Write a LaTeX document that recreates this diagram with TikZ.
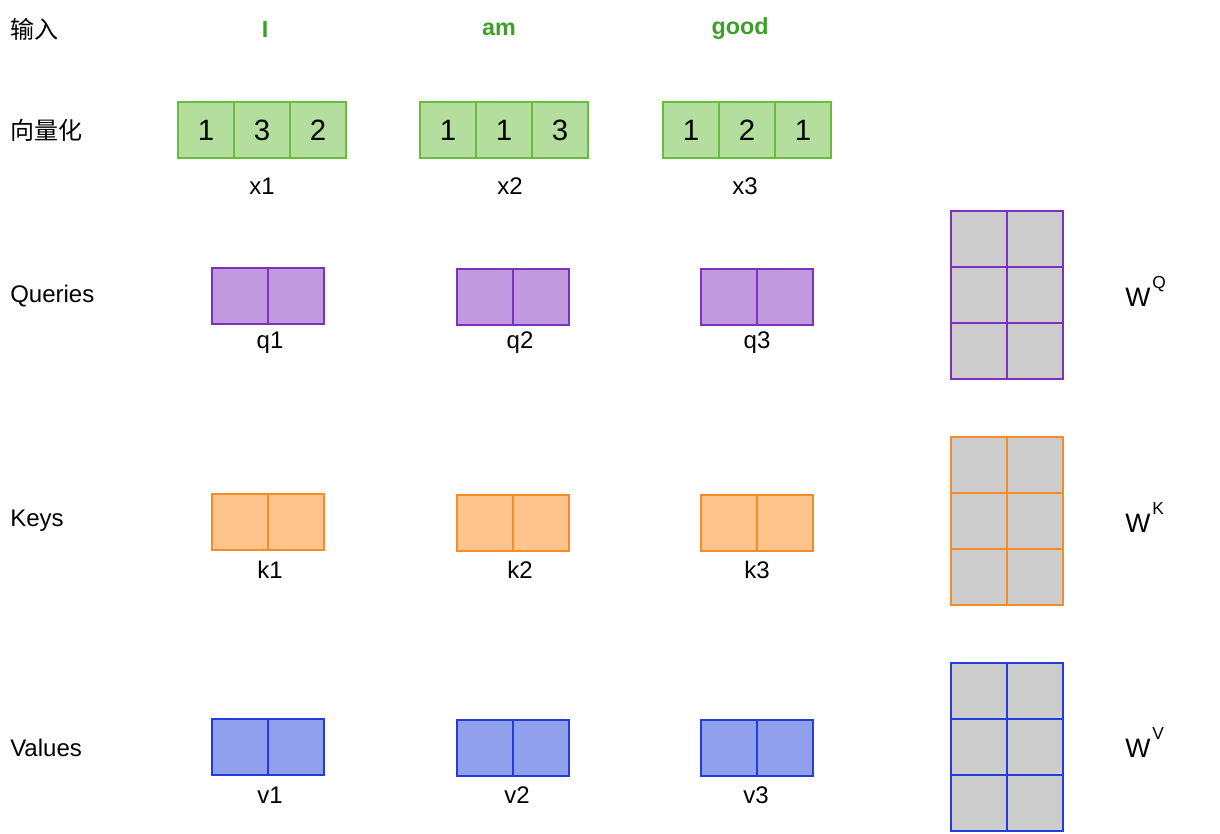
\documentclass[tikz,border=0pt]{standalone}
\usepackage{fontspec}
\setmainfont{Liberation Sans}
\newfontfamily\cjkfont{Noto Sans CJK SC}
\usetikzlibrary{positioning}

\definecolor{xfill}{RGB}{179,222,158}
\definecolor{xline}{RGB}{102,190,58}
\definecolor{qfill}{RGB}{192,153,222}
\definecolor{qline}{RGB}{126,48,191}
\definecolor{kfill}{RGB}{255,196,140}
\definecolor{kline}{RGB}{245,140,40}
\definecolor{vfill}{RGB}{145,160,236}
\definecolor{vline}{RGB}{35,60,220}
\definecolor{wgrey}{RGB}{204,204,204}
\definecolor{wordgreen}{RGB}{60,160,40}

\newcommand{\wsup}[1]{W\hspace{1.5pt}\raisebox{13pt}{\fontsize{13}{13}\selectfont #1}}

\begin{document}
\begin{tikzpicture}[
    x=0.75pt, y=-0.75pt,
    cell/.style={draw, line width=1.2pt, minimum width=42pt, minimum height=42pt,
      inner sep=0pt, outer sep=0pt},
    xcell/.style={cell, fill=xfill, draw=xline, font=\fontsize{22}{22}\selectfont},
    qcell/.style={cell, fill=qfill, draw=qline},
    kcell/.style={cell, fill=kfill, draw=kline},
    vcell/.style={cell, fill=vfill, draw=vline},
    wcell/.style={cell, fill=wgrey},
    rowlabel/.style={anchor=west, inner xsep=0pt, font=\fontsize{18}{18}\selectfont},
    vecname/.style={font=\fontsize{18}{18}\selectfont},
    word/.style={font=\bfseries\fontsize{17.5}{17.5}\selectfont, text=wordgreen},
    wname/.style={anchor=base west, inner sep=0pt, font=\fontsize{20}{20}\selectfont}
  ]
  \useasboundingbox (0,0) rectangle (1220,834);

  % row titles
  \node[rowlabel] (input) at (10,29) {\cjkfont 输入};
  \node[rowlabel] (embed) at (10,130) {\cjkfont 向量化};
  \node[rowlabel] (queries) at (10,296) {Queries};
  \node[rowlabel] (keys) at (10,521) {Keys};
  \node[rowlabel] (values) at (10,748) {Values};

  % input words
  \node[word] (tokI) at (265,29) {I};
  \node[word] (tokam) at (499,29) {am};
  \node[word] (tokgood) at (740,29) {good};

  % embeddings
  \foreach \v [count=\i from 0] in {1,3,2}
    \node[xcell] (x1-\i) at (206+56*\i,130) {\v};
  \foreach \v [count=\i from 0] in {1,1,3}
    \node[xcell] (x2-\i) at (448+56*\i,130) {\v};
  \foreach \v [count=\i from 0] in {1,2,1}
    \node[xcell] (x3-\i) at (691+56*\i,130) {\v};
  \node[vecname] (x1) at (262,186) {x1};
  \node[vecname] (x2) at (510,186) {x2};
  \node[vecname] (x3) at (745,186) {x3};

  % queries
  \foreach \i in {0,1} {
    \node[qcell] (q1-\i) at (240+56*\i,296) {};
    \node[qcell] (q2-\i) at (485+56*\i,297) {};
    \node[qcell] (q3-\i) at (729+56*\i,297) {};
  }
  \node[vecname] (q1) at (270,343) {q1};
  \node[vecname] (q2) at (520,343) {q2};
  \node[vecname] (q3) at (757,343) {q3};

  % keys
  \foreach \i in {0,1} {
    \node[kcell] (k1-\i) at (240+56*\i,522) {};
    \node[kcell] (k2-\i) at (485+56*\i,523) {};
    \node[kcell] (k3-\i) at (729+56*\i,523) {};
  }
  \node[vecname] (k1) at (270,570) {k1};
  \node[vecname] (k2) at (520,570) {k2};
  \node[vecname] (k3) at (757,570) {k3};

  % values
  \foreach \i in {0,1} {
    \node[vcell] (v1-\i) at (240+56*\i,747) {};
    \node[vcell] (v2-\i) at (485+56*\i,748) {};
    \node[vcell] (v3-\i) at (729+56*\i,748) {};
  }
  \node[vecname] (v1) at (270,795) {v1};
  \node[vecname] (v2) at (517,795) {v2};
  \node[vecname] (v3) at (756,795) {v3};

  % weight matrices
  \foreach \r in {0,1,2}
    \foreach \c in {0,1} {
      \node[wcell, draw=qline] (wq-\r\c) at (979+56*\c,239+56*\r) {};
      \node[wcell, draw=kline] (wk-\r\c) at (979+56*\c,465+56*\r) {};
      \node[wcell, draw=vline] (wv-\r\c) at (979+56*\c,691+56*\r) {};
    }
  \node[wname] (wq) at (1125,306) {\wsup{Q}};
  \node[wname] (wk) at (1125,532) {\wsup{K}};
  \node[wname] (wv) at (1125,757) {\wsup{V}};
\end{tikzpicture}
\end{document}
